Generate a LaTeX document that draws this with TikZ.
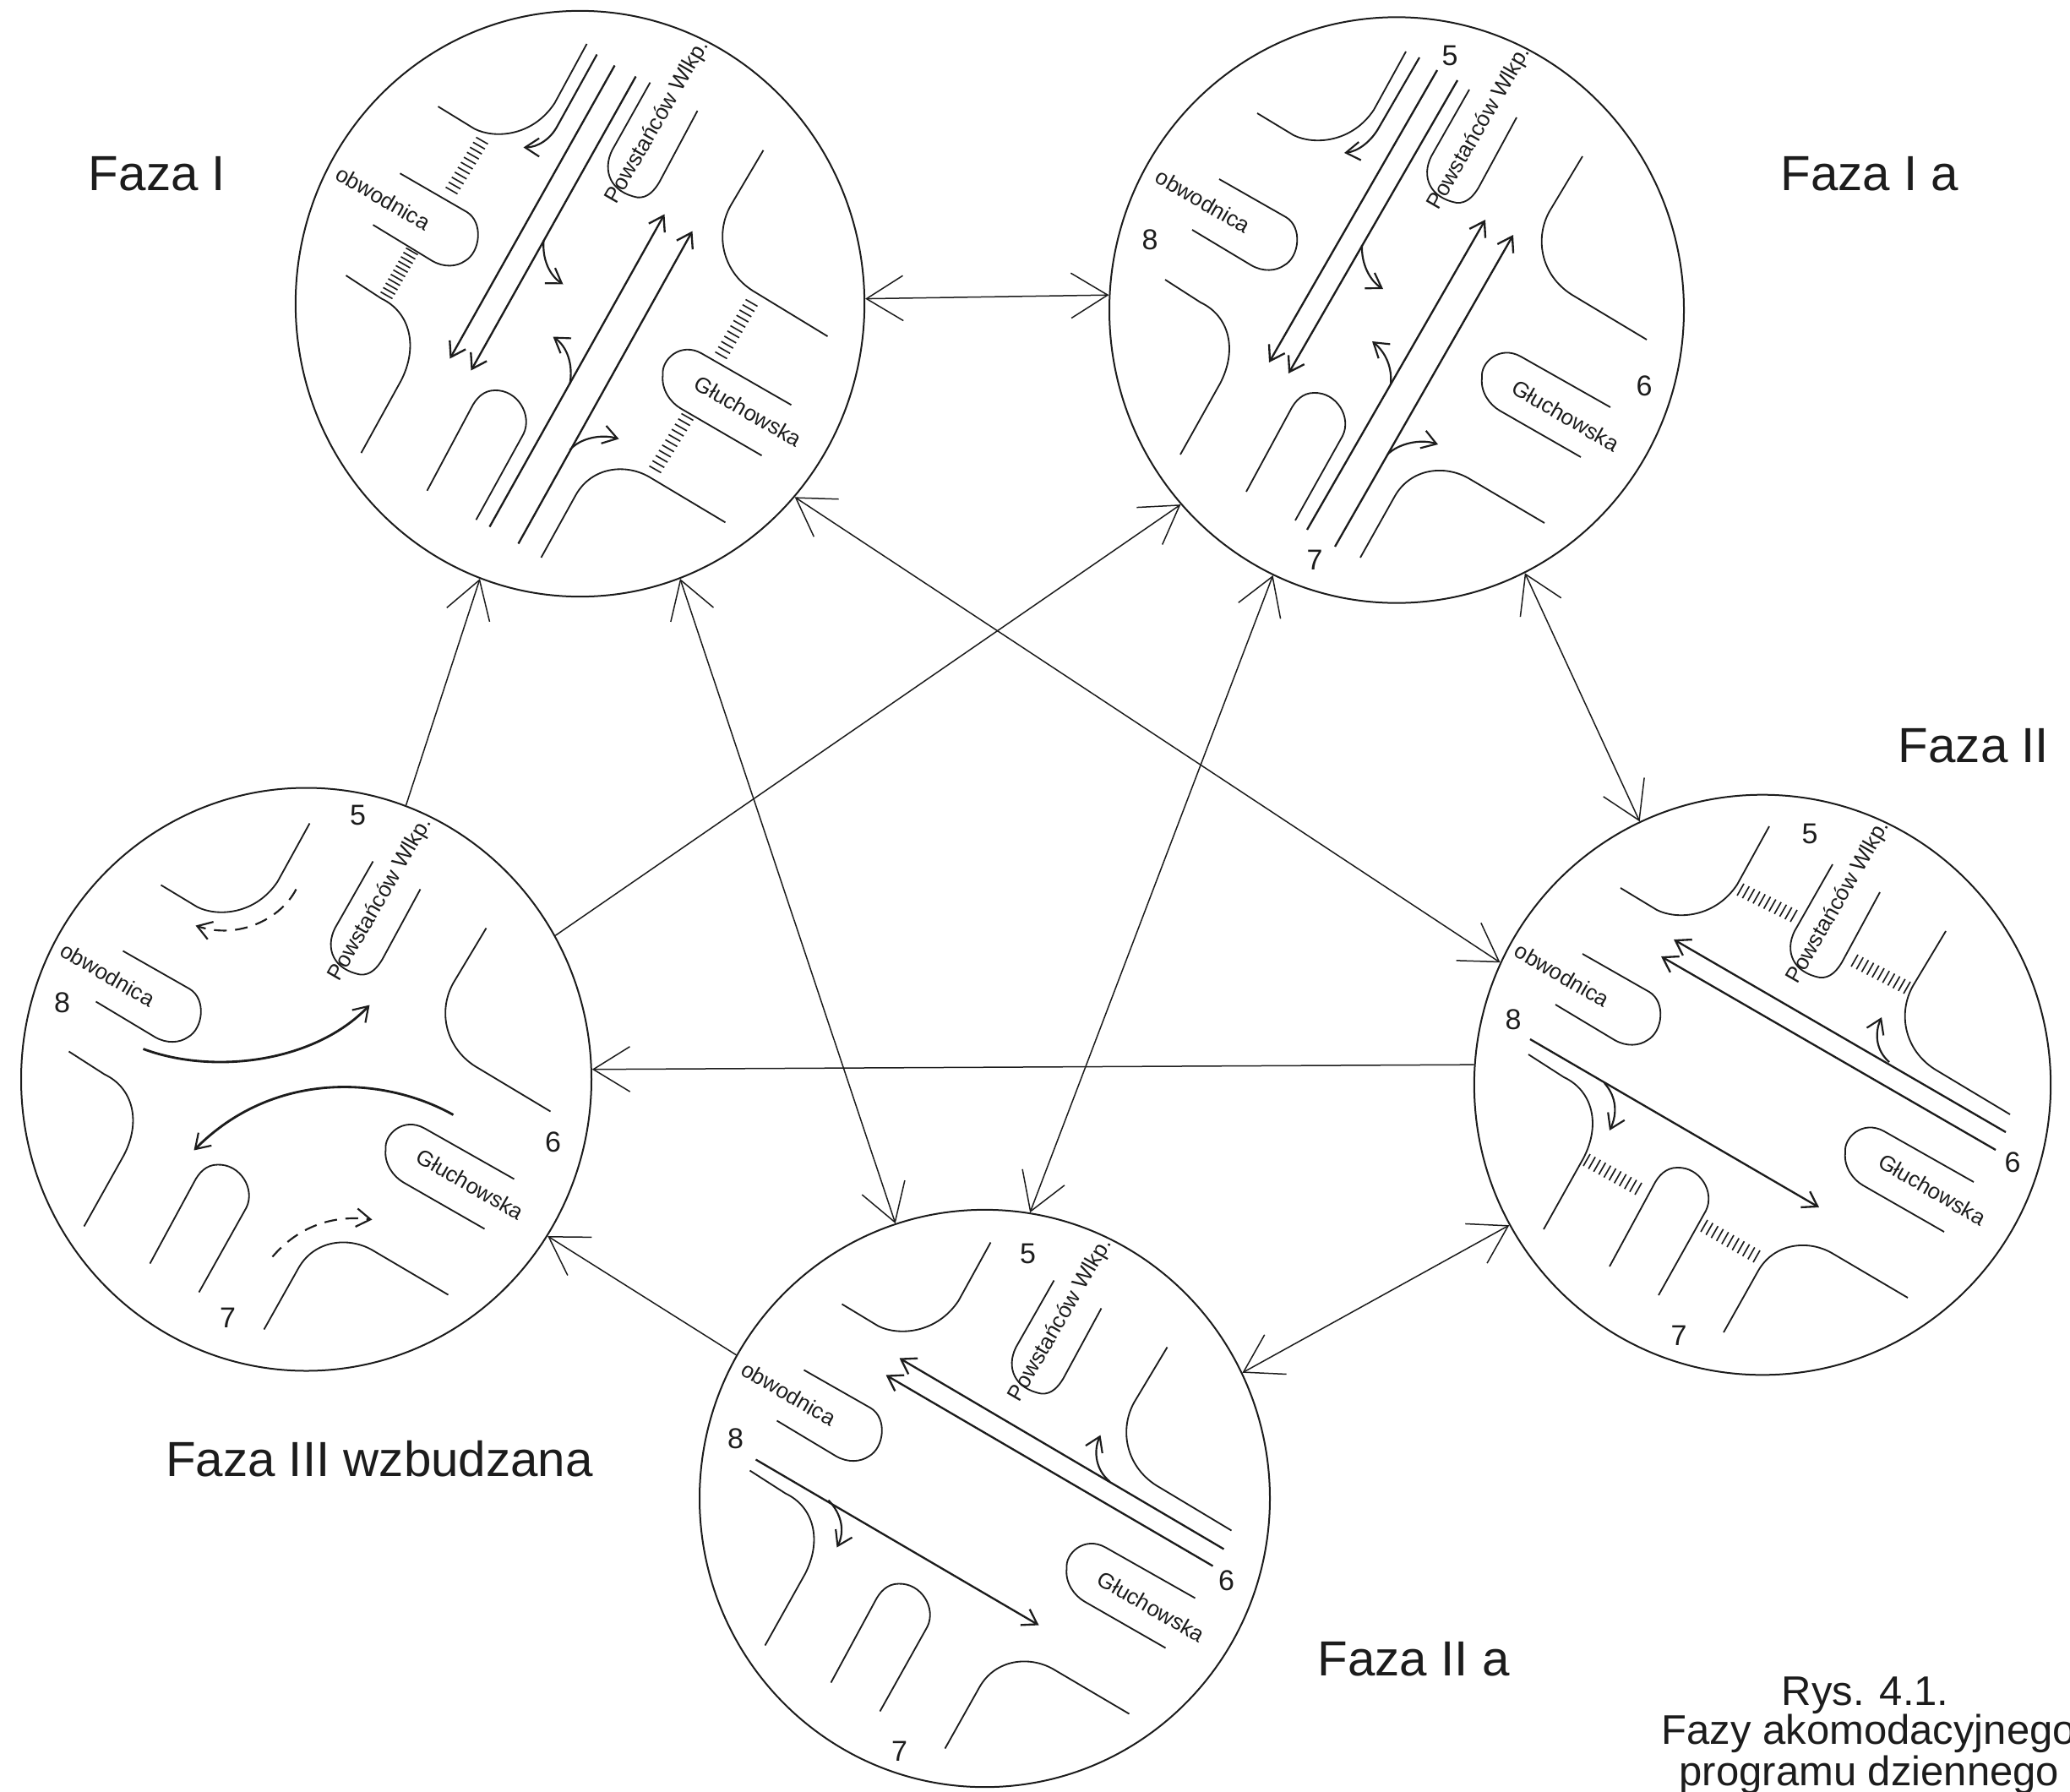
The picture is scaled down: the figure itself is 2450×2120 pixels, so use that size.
\documentclass[tikz,border=0pt]{standalone}
\usepackage{fontspec}
\setmainfont{Liberation Sans}
\usetikzlibrary{arrows.meta,calc,shapes.geometric}
\definecolor{ink}{HTML}{1C1C1C}
\tikzset{
  phase/.style={ellipse,draw=ink,line width=.6pt,inner sep=0pt,fill=none},
  road/.style={draw=ink,line width=.55pt},
  lane/.style={draw=ink,line width=.7pt,-{Straight Barb[length=5pt,width=6.5pt,line width=.7pt]}},
  turn/.style={draw=ink,line width=.65pt,-{Straight Barb[length=5pt,width=6.5pt,line width=.65pt]}},
  sweep/.style={turn,line width=.85pt},
  dashturn/.style={turn,dash pattern=on 4.5pt off 3pt},
  tick/.style={draw=ink,line width=.5pt},
  both/.style={draw=ink,line width=.45pt,{Straight Barb[length=13pt,width=16pt,line width=.45pt]}-{Straight Barb[length=13pt,width=16pt,line width=.45pt]}},
  single/.style={draw=ink,line width=.45pt,-{Straight Barb[length=13pt,width=16pt,line width=.45pt]}},
  street/.style={inner sep=0pt,font=\fontsize{7.8pt}{8pt}\selectfont,text=ink},
  num/.style={inner sep=0pt,font=\fontsize{10.2pt}{11pt}\selectfont,text=ink},
  title/.style={inner sep=0pt,font=\fontsize{17.5pt}{20pt}\selectfont,text=ink},
  caption/.style={inner sep=0pt,anchor=base west,font=\fontsize{14.7pt}{16pt}\selectfont,text=ink}
}
\newcommand{\roadset}{%
  \draw[road] (-172,-230) -- (-129,-204) .. controls (-105,-192) and (-60,-195) .. (-34,-234) -- (4,-303);
  \draw[road] (79,-258) -- (34,-179) .. controls (22,-155) and (32,-130) .. (64,-124) .. controls (76,-123) and (84,-132) .. (90,-142) -- (135,-225);
  \draw[road] (213,-179) -- (174,-114) .. controls (155,-80) and (165,-35) .. (204,-13) -- (289,38);
  \draw[road] (246,118) -- (140,58) .. controls (115,44) and (92,65) .. (94,83) .. controls (92,100) and (103,115) .. (115,122) -- (211,177);
  \draw[road] (168,255) -- (78,202) .. controls (50,186) and (10,190) .. (-9,223) -- (-50,296);
  \draw[road] (-127,252) -- (-71,152) .. controls (-60,130) and (-78,100) .. (-105,101) .. controls (-118,101) and (-127,110) .. (-133,122) -- (-185,218);
  \draw[road] (-263,174) -- (-216,90) .. controls (-195,50) and (-205,10) .. (-239,-6) -- (-281,-33);
  \draw[road] (-217,-152) -- (-138,-107) .. controls (-118,-95) and (-122,-60) .. (-140,-50) .. controls (-150,-43) and (-165,-42) .. (-179,-50) -- (-249,-92);
}
% strip of crossing ticks: mid line from #1 to #2, half tick vector #3,#4
\newcommand{\hatchstrip}[4]{%
  \foreach \i in {0,...,10}
    \draw[tick] ($(#1)!\i/10!(#2)+(#3,#4)$) -- ($(#1)!\i/10!(#2)-(#3,#4)$);
}
% street names: prefix, positions
\newcommand{\streets}[4]{%
  \node[street,rotate=-30] (#1obw) at (#2) {obwodnica};
  \node[street,rotate=60] (#1pow) at (#3) {Powstańców Wlkp.};
  \node[street,rotate=-30] (#1glu) at (#4) {Głuchowska};
}
\newcommand{\numbers}[5]{%
  \node[num] (#1five) at (#2) {5};
  \node[num] (#1six) at (#3) {6};
  \node[num] (#1seven) at (#4) {7};
  \node[num] (#1eight) at (#5) {8};
}
\begin{document}
\begin{tikzpicture}[x=0.3pt,y=-0.3pt]
\useasboundingbox (0,0) rectangle (2450,2120);
% phases
\node[phase,minimum width=202pt,minimum height=208pt] (A) at (686.5,359.5) {};
\node[phase,minimum width=204pt,minimum height=208pt] (B) at (1653,367) {};
\node[phase,minimum width=204.7pt,minimum height=206pt] (E) at (2086,1284) {};
\node[phase,minimum width=202.5pt,minimum height=205pt] (C) at (1165.5,1773.5) {};
\node[phase,minimum width=202.5pt,minimum height=207pt] (D) at (362.5,1277.5) {};
% connectors
\draw[both] (A.1.4) -- (B.177.4);
\draw[both] (A.-42.8) -- (E.155.5);
\draw[single] (D.70.7) -- (A.-110);
\draw[both] (A.-70) -- (C.108.6);
\draw[single] (D.30.4) -- (B.-138);
\draw[both] (B.-115) -- (C.81);
\draw[both] (B.-64.8) -- (E.115);
\draw[single] (E.176) -- (D.2.7);
\draw[single] (C.150) -- (D.-33.7);
\draw[both] (C.26.7) -- (E.-151);
% Faza I
\begin{scope}[shift={(686.5,359.5)}]
  \begin{scope}[shift={(4,0)},yscale=1.015]\roadset\end{scope}
  \streets{a}{-233,-125}{92,-215}{199,127}
  \draw[lane] (41,-282) -- (-154,65);
  \draw[lane] (66,-269) -- (-129,79);
  \draw[lane] (-107,264) -- (100,-106);
  \draw[lane] (-73,284) -- (133,-86);
  \draw[turn] (20,-295) -- (-27,-210) .. controls (-35,-195) and (-50,-185) .. (-67,-185);
  \draw[turn] (-43,-75) .. controls (-45,-51) and (-35,-33) .. (-20,-23);
  \draw[turn] (-12,95) .. controls (-8,72) and (-15,51) .. (-32,39);
  \draw[turn] (-12,173) .. controls (0,159) and (25,154) .. (46,160);
  \hatchstrip{-116,-193}{-152,-134}{7}{4}
  \hatchstrip{-199,-62}{-229,-10}{7}{4}
  \hatchstrip{203,-1}{167,61}{7}{4}
  \hatchstrip{127,134}{89,196}{7}{4}
\end{scope}
% Faza I a
\begin{scope}[shift={(1653,367)}]
  \begin{scope}[shift={(7,-3)}]\roadset\end{scope}
  \streets{b}{-229,-129}{98,-215}{200,125}
  \numbers{b}{63,-301}{293,90}{-97,296}{-292,-83}
  \draw[lane] (48,-284) -- (-151,62);
  \draw[lane] (72,-272) -- (-128,75);
  \draw[lane] (-106,260) -- (105,-107);
  \draw[lane] (-73,280) -- (138,-89);
  \draw[turn] (27,-299) -- (-21,-216) .. controls (-30,-200) and (-45,-188) .. (-62,-186);
  \draw[turn] (-41,-77) .. controls (-42,-55) and (-32,-35) .. (-16,-25);
  \draw[turn] (-7,88) .. controls (-5,68) and (-13,50) .. (-29,37);
  \draw[turn] (-11,171) .. controls (2,158) and (28,152) .. (49,159);
\end{scope}
% Faza II
\begin{scope}[shift={(2086,1284)}]
  \begin{scope}[shift={(4,-3)}]\roadset\end{scope}
  \streets{e}{-237,-130}{90,-216}{201,124}
  \numbers{e}{56,-297}{296,92}{-99,297}{-295,-77}
  \draw[lane] (288,56) -- (-105,-172);
  \draw[lane] (276,77) -- (-120,-152);
  \draw[lane] (-275,-54) -- (67,145);
  \draw[turn] (150,-27) .. controls (135,-40) and (132,-60) .. (141,-80);
  \draw[turn] (-187,-2) .. controls (-172,15) and (-172,35) .. (-181,54);
  \hatchstrip{-26,-231}{37,-200}{4}{-7}
  \hatchstrip{109,-147}{171,-115}{4}{-7}
  \hatchstrip{-208,89}{-147,123}{4}{-7}
  \hatchstrip{-69,167}{-7,203}{4}{-7}
\end{scope}
% Faza II a
\begin{scope}[shift={(1165.5,1773.5)}]
  \begin{scope}[shift={(3,0)}]\roadset\end{scope}
  \streets{c}{-232,-124}{90,-211}{197,128}
  \numbers{c}{51,-290}{286,97}{-101,299}{-295,-71}
  \draw[lane] (283,60) -- (-101,-166);
  \draw[lane] (270,80) -- (-117,-146);
  \draw[lane] (-271,-46) -- (64,150);
  \draw[turn] (148,-20) .. controls (132,-33) and (128,-55) .. (137,-75);
  \draw[turn] (-185,2) .. controls (-168,20) and (-166,40) .. (-175,58);
\end{scope}
% Faza III wzbudzana
\begin{scope}[shift={(362.5,1277.5)}]
  \roadset
  \streets{d}{-235,-124}{88,-213}{194,124}
  \numbers{d}{61,-313}{292,74}{-93,282}{-289,-91}
  \draw[sweep] (-193,-36) .. controls (-110,-5) and (10,-20) .. (75,-88);
  \draw[sweep] (174,42) .. controls (90,-5) and (-40,-10) .. (-133,84);
  \draw[dashturn] (-12,-225) .. controls (-30,-190) and (-80,-165) .. (-131,-182);
  \draw[dashturn] (-40,210) .. controls (-10,175) and (30,160) .. (78,166);
\end{scope}
% titles
\node[title] (t1) at (186,206) {Faza I};
\node[title] (t2) at (2213,206) {Faza I a};
\node[title] (t3) at (2336,883) {Faza II};
\node[title] (t4) at (449,1727) {Faza III wzbudzana};
\node[title] (t5) at (1673,1964) {Faza II a};
\node[caption] (r1) at (2108,2018) {Rys. 4.1.};
\node[caption] (r2) at (1966,2064) {Fazy akomodacyjnego};
\node[caption] (r3) at (1987,2113) {programu dziennego};
\end{tikzpicture}
\end{document}
